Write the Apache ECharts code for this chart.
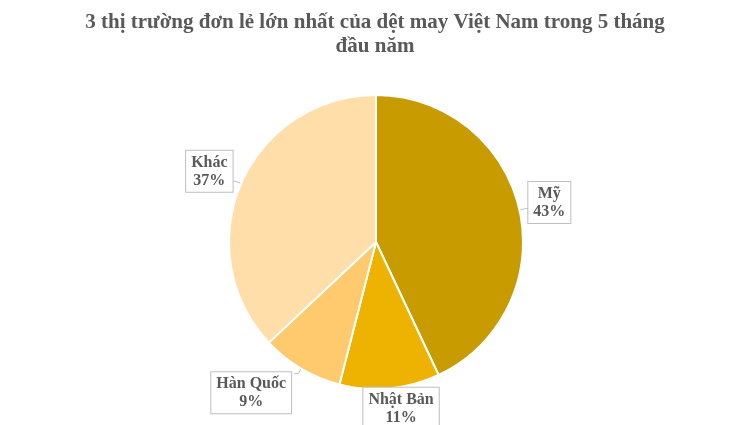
<!DOCTYPE html>
<html><head><meta charset="utf-8">
<script src="https://cdn.jsdelivr.net/npm/echarts@6/dist/echarts.min.js"></script>
<style>html,body{margin:0;padding:0;background:#fff}#c{width:750px;height:425px}</style>
</head><body><div id="c"></div>
<script>
const categories = ['Mỹ', 'Nhật Bản', 'Hàn Quốc', 'Khác'];
const shares = [43, 11, 9, 37];
const colors = ['#C89B00', '#EEB300', '#FFCA6E', '#FFDEAA'];
const labelShift = [[-6, -6], [-36, 14], [2, 19], [6, -10]];

const chart = echarts.init(document.getElementById('c'));
chart.setOption({
  animation: false,
  title: {
    text: '3 thị trường đơn lẻ lớn nhất của dệt may Việt Nam trong 5 tháng\nđầu năm',
    left: 'center', top: 6,
    textStyle: { fontFamily: 'Liberation Serif', fontWeight: 'bold', fontSize: 21, color: '#595959', lineHeight: 24 }
  },
  series: [{
    type: 'pie',
    center: [376, 242],
    radius: 147,
    startAngle: 90,
    clockwise: true,
    data: categories.map((c, i) => ({ name: c, value: shares[i], itemStyle: { color: colors[i] } })),
    itemStyle: { borderColor: '#fff', borderWidth: 2 },
    label: {
      position: 'outside',
      formatter: p => '{t|' + p.name + '}\n{t|' + p.value + '%}',
      rich: {
        t: { align: 'center', fontFamily: 'Liberation Serif', fontWeight: 'bold', fontSize: 16, color: '#595959', lineHeight: 18 }
      },
      backgroundColor: '#fff', borderColor: '#BFBFBF', borderWidth: 1,
      padding: [3, 5, 2, 5]
    },
    labelLine: { show: true, length: 6, length2: 4, lineStyle: { color: '#BFBFBF', width: 1 } },
    labelLayout: p => ({ dx: labelShift[p.dataIndex][0], dy: labelShift[p.dataIndex][1] })
  }]
});
</script></body></html>
